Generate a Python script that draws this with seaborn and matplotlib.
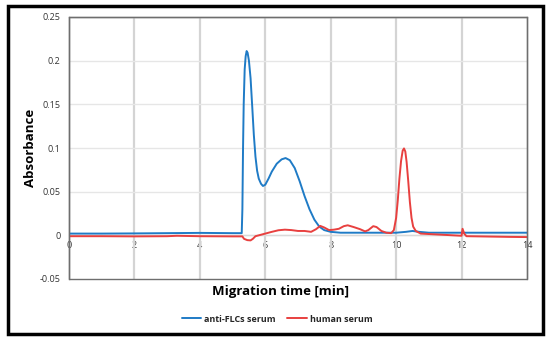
import numpy as np
import pandas as pd
import matplotlib
matplotlib.use("Agg")
import matplotlib.pyplot as plt
from matplotlib.patches import Rectangle
from matplotlib.lines import Line2D
import seaborn as sns

# ---- data ----
blue_t = [0, 1, 2, 3, 4, 5, 5.28, 5.3, 5.32, 5.34, 5.37, 5.4, 5.43, 5.46, 5.5, 5.55,
          5.6, 5.65, 5.7, 5.75, 5.8, 5.87, 5.93, 6.0, 6.1, 6.2, 6.35, 6.5, 6.62, 6.75,
          6.9, 7.05, 7.2, 7.35, 7.5, 7.65, 7.8, 8.0, 8.3, 9.0, 10.0, 10.3, 10.5, 10.7,
          11, 12, 13, 14]
blue_a = [0.002, 0.002, 0.0022, 0.0025, 0.0028, 0.0025, 0.0025, 0.03, 0.1, 0.15, 0.19,
          0.205, 0.211, 0.209, 0.2, 0.18, 0.148, 0.115, 0.09, 0.074, 0.065, 0.059,
          0.0565, 0.058, 0.065, 0.073, 0.082, 0.087, 0.0885, 0.086, 0.077, 0.062,
          0.045, 0.03, 0.018, 0.01, 0.006, 0.004, 0.003, 0.003, 0.003, 0.004, 0.005,
          0.004, 0.003, 0.003, 0.003, 0.003]

red_t = [0, 1, 2, 3, 3.3, 4, 5, 5.3, 5.35, 5.45, 5.55, 5.62, 5.7, 5.8, 6.0, 6.2, 6.4,
         6.6, 6.8, 7.0, 7.2, 7.4, 7.55, 7.68, 7.8, 7.95, 8.1, 8.25, 8.4, 8.52, 8.7,
         8.9, 9.05, 9.15, 9.3, 9.4, 9.55, 9.7, 9.85, 9.93, 10.0, 10.05, 10.1, 10.15,
         10.2, 10.24, 10.28, 10.32, 10.37, 10.42, 10.47, 10.52, 10.6, 10.75, 11.0,
         11.5, 12.0, 12.03, 12.08, 12.15, 12.5, 13.0, 13.5, 14.0]
red_a = [-0.001, -0.001, -0.0012, -0.001, -0.0005, -0.001, -0.0012, -0.0012, -0.004,
         -0.0055, -0.0058, -0.004, -0.001, 0.0, 0.002, 0.004, 0.0058, 0.0065, 0.006,
         0.005, 0.005, 0.004, 0.007, 0.0108, 0.009, 0.006, 0.0065, 0.0075, 0.0105,
         0.0115, 0.0095, 0.007, 0.0045, 0.006, 0.0105, 0.0095, 0.005, 0.003, 0.0025,
         0.006, 0.02, 0.04, 0.065, 0.085, 0.097, 0.0995, 0.096, 0.084, 0.062, 0.038,
         0.02, 0.01, 0.005, 0.002, 0.0015, 0.0005, -0.0005, 0.0075, 0.002, -0.001,
         -0.0012, -0.0015, -0.0018, -0.002]

series_names = ["anti-FLCs serum", "human serum"]
x_ticks = [0, 2, 4, 6, 8, 10, 12, 14]
y_ticks = [-0.05, 0, 0.05, 0.1, 0.15, 0.2, 0.25]
y_tick_labels = ["-0.05", "0", "0.05", "0.1", "0.15", "0.2", "0.25"]
x_label = "Migration time [min]"
y_label = "Absorbance"

colors = {"anti-FLCs serum": "#1f7bc6", "human serum": "#e8403f"}

sns.set_theme(style="white")
plt.rcParams["font.family"] = ["Open Sans", "DejaVu Sans"]

fig = plt.figure(figsize=(5.5, 3.44), dpi=100)
ax = fig.add_axes([69 / 550, 1 - 279 / 344, 458 / 550, 262 / 344])

for name, t, a in [(series_names[0], blue_t, blue_a), (series_names[1], red_t, red_a)]:
    sns.lineplot(x=t, y=a, color=colors[name], sort=False, linewidth=1.4, ax=ax,
                 legend=False, zorder=3)

ax.set_xlim(0, 14)
ax.set_ylim(-0.05, 0.25)
ax.set_xticks(x_ticks)
ax.set_yticks(y_ticks)
ax.set_yticklabels(y_tick_labels)

# grid
for xv in x_ticks[1:-1]:
    ax.axvline(xv, color="#d4d4d4", lw=1.6, zorder=1)
for yv in y_ticks[1:]:
    ax.axhline(yv, color="#e6e6e6", lw=1.0, zorder=1)

# spines: x axis crosses at 0
for s in ["top", "right", "left"]:
    ax.spines[s].set_color("#8c8c8c")
    ax.spines[s].set_linewidth(1.0)
ax.spines["left"].set_color("#6e6e6e")
ax.spines["bottom"].set_position(("data", 0))
ax.spines["bottom"].set_color("#d9d9d9")
ax.spines["bottom"].set_linewidth(1.0)
ax.add_patch(Rectangle((0, 0), 1, 1, transform=ax.transAxes, fill=False,
                       edgecolor="#6e6e6e", lw=1.0, clip_on=False, zorder=5))

ax.tick_params(axis="both", length=0, labelsize=6.5, colors="#333333")
ax.tick_params(axis="x", pad=4)
ax.tick_params(axis="y", pad=6)

ax.set_xlabel(x_label, fontsize=9.5, fontweight="bold", color="#000000")
ax.set_ylabel(y_label, fontsize=9.5, fontweight="bold", color="#000000")
ax.xaxis.set_label_coords((281 - 69) / 458, (279 - 292) / 262)
ax.yaxis.set_label_coords((30 - 69) / 458, 0.5)
ax.xaxis.label.set_va("center")
ax.yaxis.label.set_va("center")

handles = [Line2D([0], [0], color=colors[n], lw=1.4) for n in series_names]
fig.legend(handles, series_names, loc="center", bbox_to_anchor=(277 / 550, 1 - 319 / 344),
           ncol=2, frameon=False, handlelength=2.2, handletextpad=0.3,
           columnspacing=1.3, prop={"weight": "bold", "size": 6.5})

# outer frame
fig.add_artist(Rectangle((8 / 550, 1 - 334 / 344), 535 / 550, 328 / 344,
                         transform=fig.transFigure, fill=False, edgecolor="black",
                         lw=2.5))

fig.savefig("out.png", dpi=100)
